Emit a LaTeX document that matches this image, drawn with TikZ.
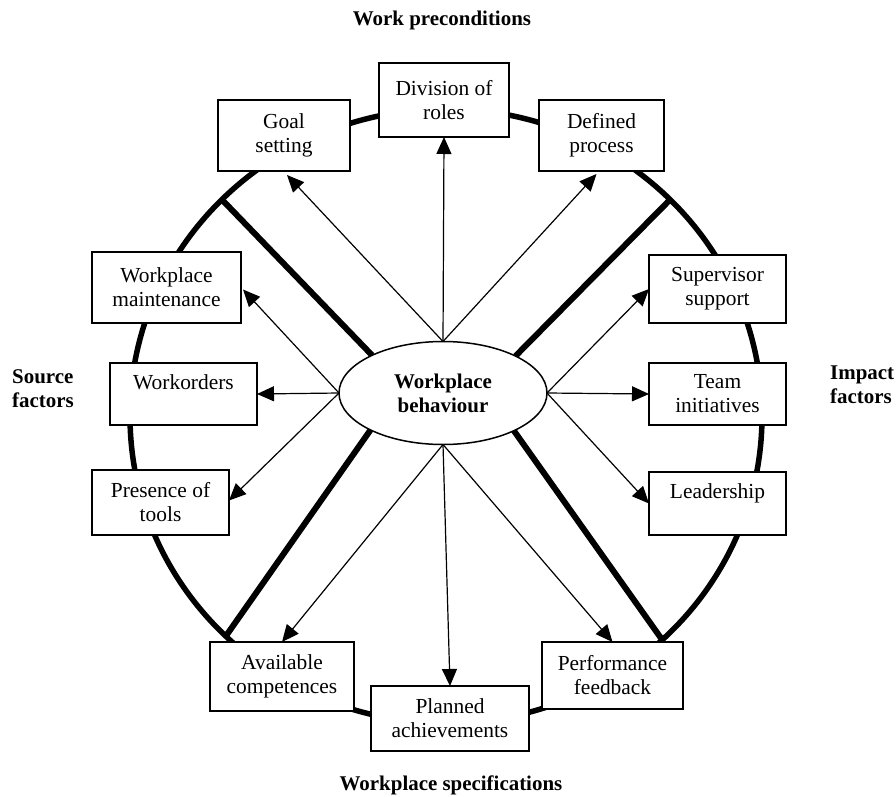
\documentclass[tikz,border=0pt]{standalone}
\usepackage{fontspec}
\setmainfont{Liberation Serif}
\usetikzlibrary{shapes.geometric,arrows.meta,backgrounds}
\begin{document}
\begin{tikzpicture}[x=1bp,y=-1bp,
  box/.style={draw,line width=1.5bp,fill=white,align=center,inner sep=0pt,outer sep=0pt,font=\fontsize{21.5}{24}\selectfont},
  arr/.style={line width=1.2bp,-{Triangle[length=17bp,width=15bp]}},
  rim/.style={line width=5.5bp},
  spoke/.style={line width=6bp},
  lbl/.style={font=\fontsize{21}{24}\selectfont\bfseries,align=left,inner sep=0pt}]
\useasboundingbox (0,0) rectangle (896,797);
% outer ring
\node[ellipse,draw,rim,minimum width=632bp,minimum height=614bp,inner sep=0pt,outer sep=0pt] (big) at (446,416) {};
% centre
\node[ellipse,draw,line width=1.5bp,fill=white,minimum width=208bp,minimum height=103bp,inner sep=0pt,outer sep=0pt,align=center,font=\fontsize{21}{24}\selectfont\bfseries] (wb) at (443,393) {Workplace\\behaviour};
% boxes
\node[box,minimum width=130bp,minimum height=74bp] (div) at (444,100) {Division of\\roles};
\node[box,minimum width=132bp,minimum height=71bp] (goal) at (284,135.5) {Goal\\setting};
\node[box,minimum width=125bp,minimum height=71bp] (def) at (601.5,135.5) {Defined\\process};
\node[box,minimum width=149bp,minimum height=71bp] (wm) at (166.5,287.5) {Workplace\\maintenance};
\node[box,minimum width=147bp,minimum height=62bp] (wo) at (183.5,394) {Workorders\\\mbox{}};
\node[box,minimum width=137bp,minimum height=65bp] (pt) at (160.5,502.5) {Presence of\\tools};
\node[box,minimum width=137bp,minimum height=68bp] (ss) at (717.5,289) {Supervisor\\support};
\node[box,minimum width=137bp,minimum height=62bp] (ti) at (717.5,394) {Team\\initiatives};
\node[box,minimum width=137bp,minimum height=63bp] (lead) at (717.5,503.5) {Leadership\\\mbox{}};
\node[box,minimum width=144bp,minimum height=69bp] (ac) at (282,676.5) {Available\\competences};
\node[box,minimum width=158bp,minimum height=65bp] (pa) at (450,718.5) {Planned\\achievements};
\node[box,minimum width=141bp,minimum height=67bp] (pf) at (612.5,675.5) {Performance\\feedback};
% labels
\node[lbl] (tp) at (442,20) {Work preconditions};
\node[lbl] (bt) at (451,785) {Workplace specifications};
\node[lbl,anchor=west] (sf) at (12,389) {Source\\factors};
\node[lbl,anchor=west] (imf) at (830,385) {Impact\\factors};
% thick spokes
\begin{scope}[on background layer]
\draw[spoke] (wb.152) -- (big.136);
\draw[spoke] (wb.27) -- (big.44);
\draw[spoke] (wb.207) -- (big.225);
\draw[spoke] (wb.332) -- (big.314);
\end{scope}
% arrows
\draw[arr] (wb.north) -- ([xshift=3bp,yshift=-4bp]goal.south);
\draw[arr] (wb.north) -- (div.south);
\draw[arr] (wb.north) -- ([xshift=-5bp,yshift=-3bp]def.south);
\draw[arr] (wb.west) -- ([xshift=2bp,yshift=-2bp]wm.east);
\draw[arr] (wb.west) -- (wo.east);
\draw[arr] (wb.west) -- ([yshift=2bp]pt.east);
\draw[arr] (wb.east) -- (ss.west);
\draw[arr] (wb.east) -- (ti.west);
\draw[arr] (wb.east) -- (lead.west);
\draw[arr] (wb.south) -- (ac.north);
\draw[arr] (wb.south) -- (pa.north);
\draw[arr] (wb.south) -- (pf.north);
\end{tikzpicture}
\end{document}
